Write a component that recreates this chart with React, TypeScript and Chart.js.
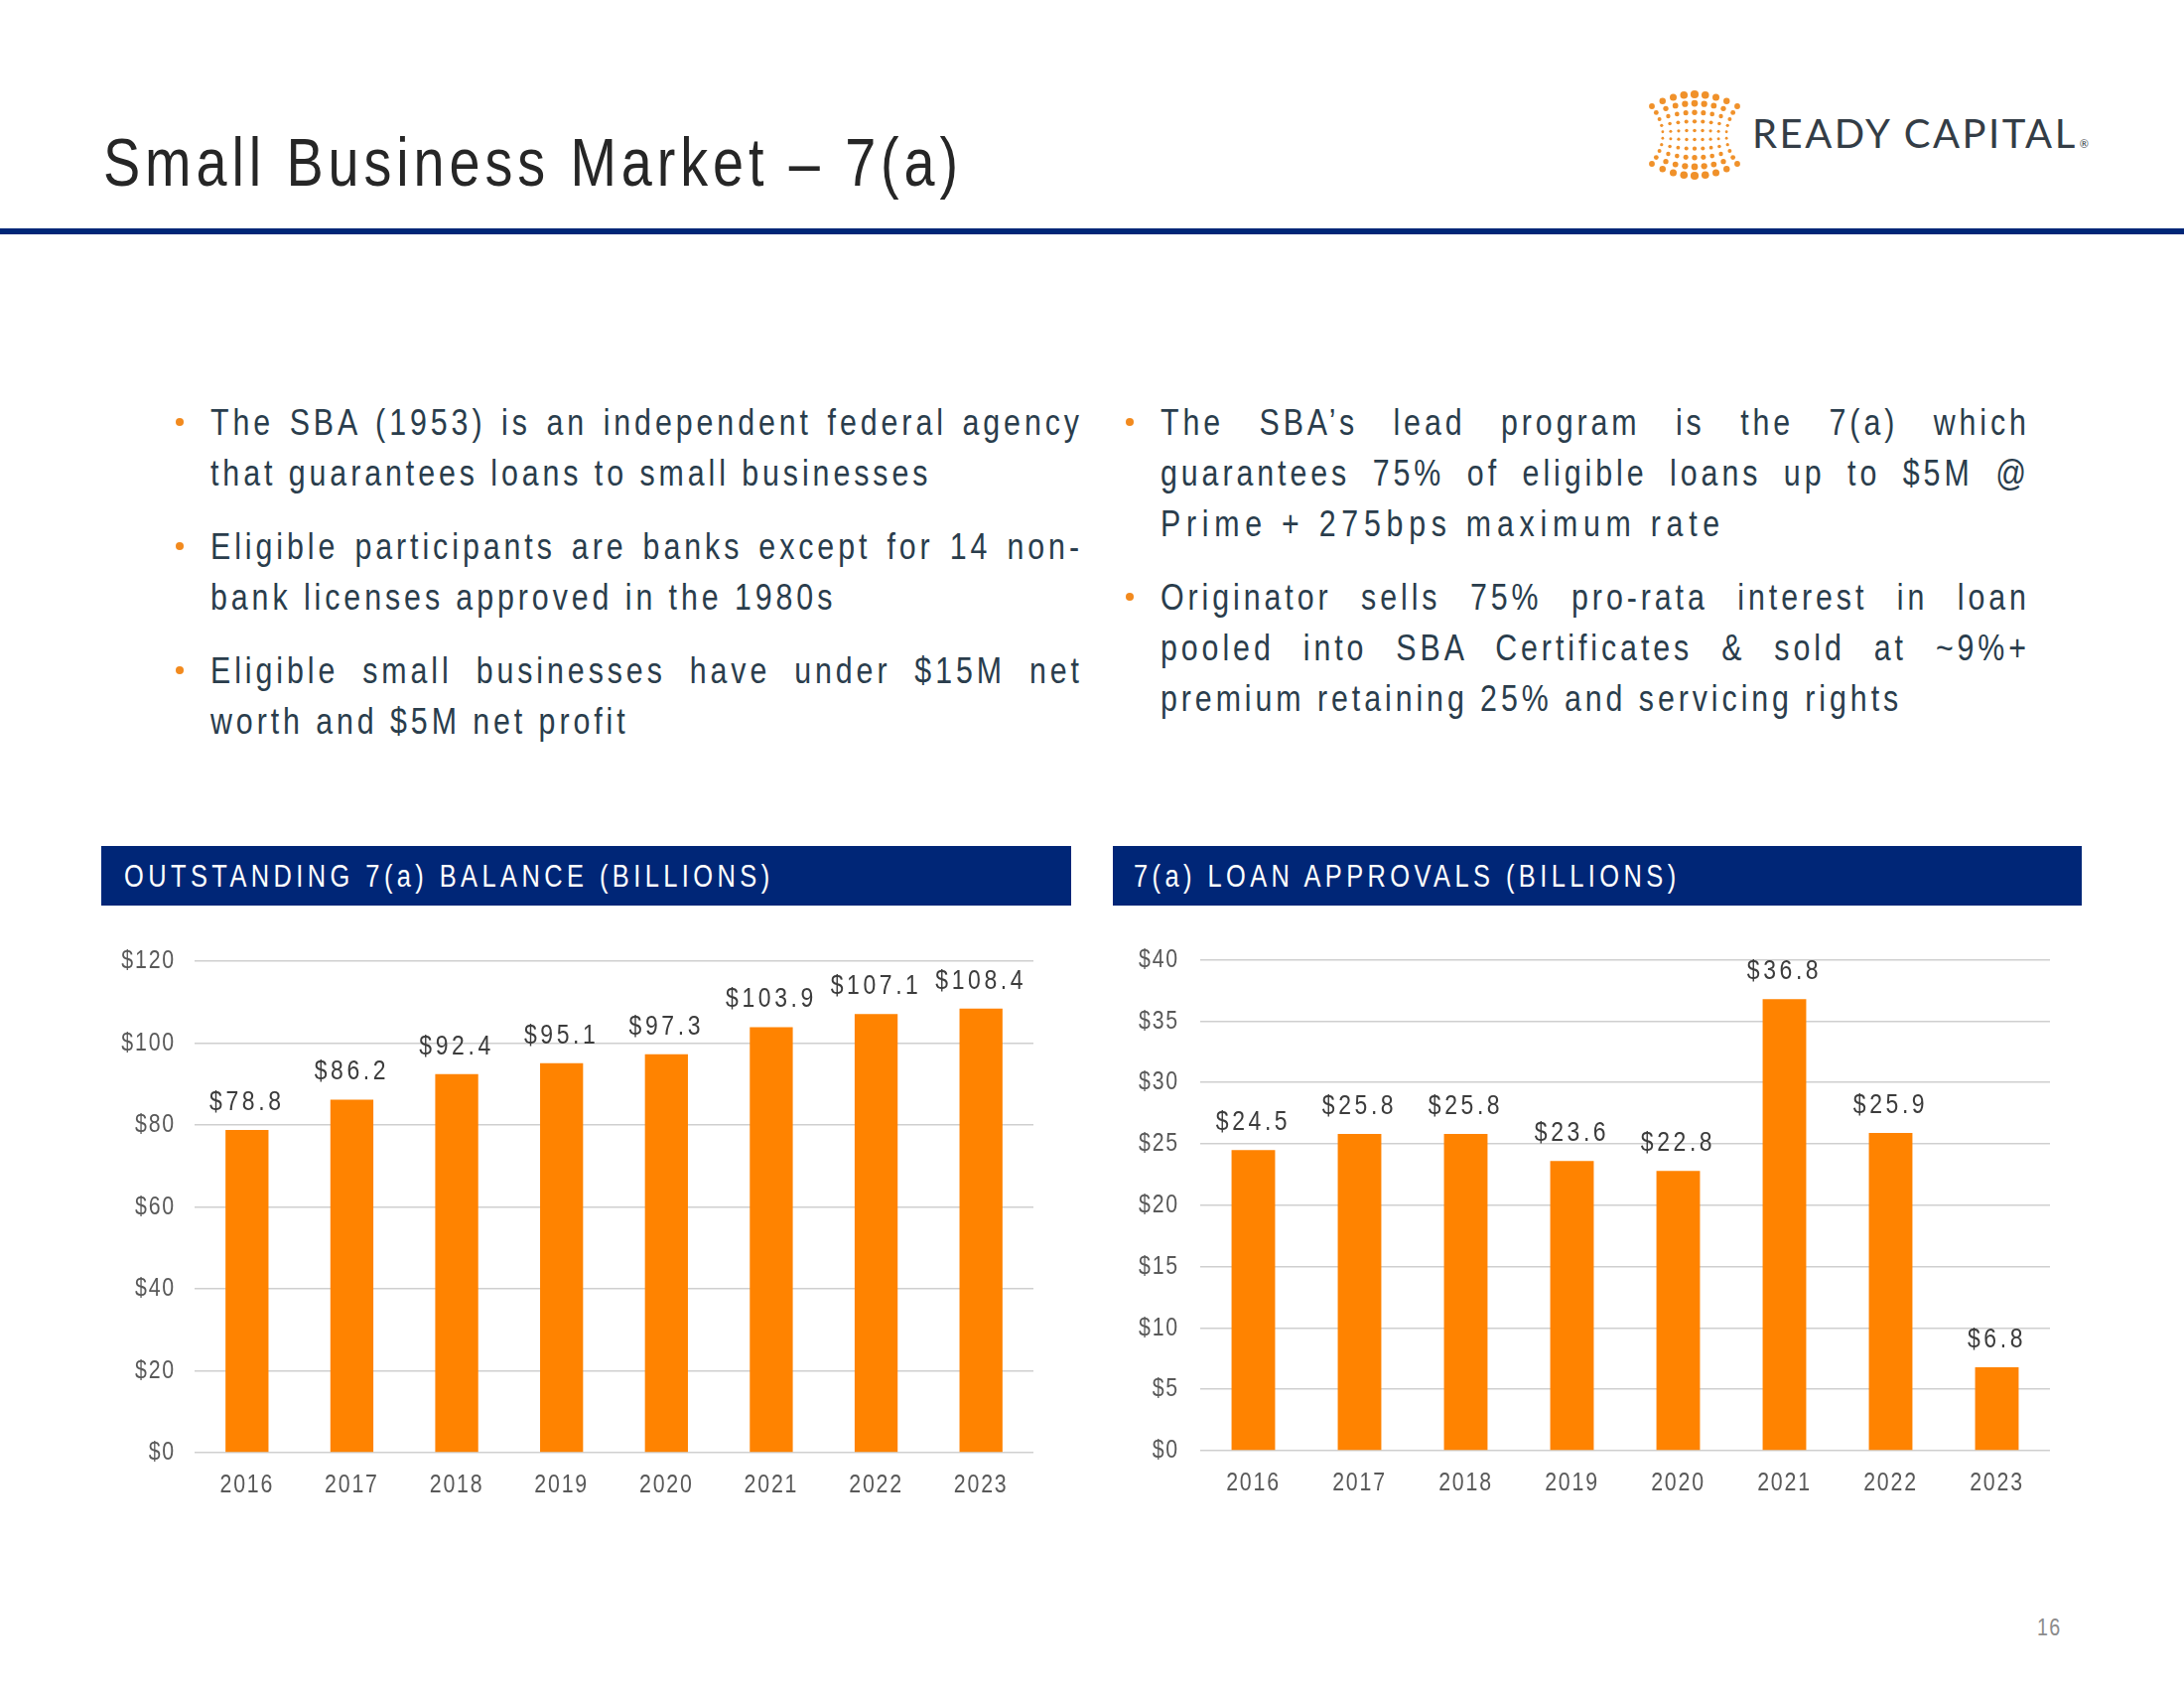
import React, { useEffect, useRef } from "react";
import { Chart, registerables } from "chart.js";

Chart.register(...registerables);

// ---------- data ----------
const years = ["2016", "2017", "2018", "2019", "2020", "2021", "2022", "2023"];
const balanceValues = [78.8, 86.2, 92.4, 95.1, 97.3, 103.9, 107.1, 108.4];
const approvalValues = [24.5, 25.8, 25.8, 23.6, 22.8, 36.8, 25.9, 6.8];
const balanceAxis = { max: 120, step: 20 };
const approvalAxis = { max: 40, step: 5 };

const leftBullets = [
  ["The SBA (1953) is an independent federal agency", "that guarantees loans to small businesses"],
  ["Eligible participants are banks except for 14 non-", "bank licenses approved in the 1980s"],
  ["Eligible small businesses have under $15M net", "worth and $5M net profit"],
];
const rightBullets = [
  ["The SBA\u2019s lead program is the 7(a) which", "guarantees 75% of eligible loans up to $5M @", "Prime + 275bps maximum rate"],
  ["Originator sells 75% pro-rata interest in loan", "pooled into SBA Certificates & sold at ~9%+", "premium retaining 25% and servicing rights"],
];

// ---------- style ----------
const FONT = "'Liberation Sans', Arial, sans-serif";
const NARROW = 0.82; // horizontal squeeze to mimic Arial Narrow
const NAVY = "#002677";
const ORANGE = "#FF8300";
const TEXT = "#2a3d4c";
const BFS = 37; // body font size

// squeeze every canvas text horizontally around its anchor point
const narrowTextPlugin = {
  id: "narrowText",
  beforeInit(chart: any) {
    const ctx = chart.ctx;
    if (ctx.__narrowed) return;
    const orig = ctx.fillText.bind(ctx);
    ctx.fillText = (text: string, x: number, y: number, maxW?: number) => {
      ctx.save();
      ctx.translate(x, y);
      ctx.scale(NARROW, 1);
      if (maxW !== undefined) orig(text, 0, 0, maxW / NARROW);
      else orig(text, 0, 0);
      ctx.restore();
    };
    ctx.__narrowed = true;
  },
  beforeDraw(chart: any) {
    (chart.ctx as any).letterSpacing = "2.2px";
  },
};

const valueLabelPlugin = {
  id: "valueLabels",
  afterDatasetsDraw(chart: any) {
    const ctx = chart.ctx;
    const meta = chart.getDatasetMeta(0);
    const data = chart.data.datasets[0].data as number[];
    ctx.save();
    ctx.font = `28px ${FONT}`;
    (ctx as any).letterSpacing = "4.4px";
    ctx.fillStyle = "#3c3c3c";
    ctx.textAlign = "center";
    ctx.textBaseline = "alphabetic";
    meta.data.forEach((bar: any, i: number) => {
      ctx.fillText("$" + data[i].toFixed(1), bar.x, bar.y - 20);
    });
    ctx.restore();
  },
};

type Box = { x: number; y: number; w: number; h: number };

function BarChart(props: {
  values: number[];
  max: number;
  step: number;
  box: Box;
  yWidth: number;
  pad: { top: number; right: number; bottom: number; left: number };
  yPad: number;
}) {
  const ref = useRef<HTMLCanvasElement>(null);
  useEffect(() => {
    const chart = new Chart(ref.current as HTMLCanvasElement, {
      type: "bar",
      data: {
        labels: years,
        datasets: [
          {
            data: props.values,
            backgroundColor: ORANGE,
            barPercentage: 0.41,
            categoryPercentage: 1,
          },
        ],
      },
      options: {
        animation: false,
        responsive: false,
        maintainAspectRatio: false,
        layout: { padding: props.pad },
        plugins: { legend: { display: false }, tooltip: { enabled: false } },
        scales: {
          x: {
            grid: { display: false, drawTicks: false },
            border: { display: false },
            ticks: { color: "#595959", font: { family: FONT, size: 26 }, padding: 17, maxRotation: 0, autoSkip: false },
            afterFit: (s: any) => {
              s.height = 50;
            },
          },
          y: {
            min: 0,
            max: props.max,
            ticks: {
              stepSize: props.step,
              color: "#595959",
              font: { family: FONT, size: 26 },
              padding: props.yPad,
              callback: (v: any) => "$" + v,
            },
            grid: { color: "#cfcfcf", lineWidth: 1.5, drawTicks: false },
            border: { display: false },
            afterFit: (s: any) => {
              s.width = props.yWidth;
            },
          },
        },
      },
      plugins: [narrowTextPlugin, valueLabelPlugin],
    });
    return () => chart.destroy();
  }, []);
  const b = props.box;
  return (
    <canvas
      ref={ref}
      width={b.w}
      height={b.h}
      style={{ position: "absolute", left: b.x, top: b.y, width: b.w, height: b.h }}
    />
  );
}

// condensed text block: positioned by baseline, squeezed horizontally
function NarrowText(props: {
  x: number;
  baseline: number;
  size: number;
  ls: number;
  color: string;
  text: string;
  width?: number;
  justify?: boolean;
}) {
  const fs = props.size;
  const style: any = {
    position: "absolute",
    left: props.x,
    top: props.baseline - 0.8465 * fs,
    fontFamily: FONT,
    fontSize: fs,
    lineHeight: `${fs}px`,
    letterSpacing: `${props.ls}px`,
    color: props.color,
    whiteSpace: "nowrap",
    transform: `scaleX(${NARROW})`,
    transformOrigin: "0 0",
  };
  if (props.width !== undefined) {
    style.width = (props.width + props.ls * NARROW) / NARROW;
    style.textAlign = props.justify ? "justify" : "left";
    style.textAlignLast = props.justify ? "justify" : "left";
  }
  return <div style={style}>{props.text}</div>;
}

function Dot(props: { x: number; y: number }) {
  return (
    <div
      style={{
        position: "absolute",
        left: props.x - 4,
        top: props.y - 4,
        width: 8,
        height: 8,
        borderRadius: "50%",
        background: "#F28A1E",
      }}
    />
  );
}

const SPECIAL_LS: Record<string, number> = { "Prime + 275bps maximum rate": 7 };

function Bullets(props: { groups: string[][]; x: number; width: number; baselines: number[][] }) {
  const out: any[] = [];
  props.groups.forEach((g, gi) => {
    out.push(<Dot key={"d" + gi} x={props.x - 31} y={props.baselines[gi][0] - 13} />);
    g.forEach((t, li) => {
      out.push(
        <NarrowText
          key={gi + "-" + li}
          x={props.x}
          baseline={props.baselines[gi][li]}
          size={BFS}
          ls={SPECIAL_LS[t] ?? 4.8}
          color={TEXT}
          width={props.width}
          text={t}
          justify={li < g.length - 1}
        />
      );
    });
  });
  return <>{out}</>;
}

function LogoMark() {
  const circles: any[] = [];
  const cols = 9;
  const rows = 10;
  const cx = 47;
  const cy = 46;
  for (let c = 0; c < cols; c++) {
    const u = (c - 4) / 4;
    for (let r = 0; r < rows; r++) {
      const v = (r - 4.5) / 4.5;
      const halfW = 32 + 11 * v * v;
      const halfH = 41 - 12 * u * u;
      const x = cx + u * halfW;
      const y = cy + v * halfH;
      const rad = 0.7 + (1 + 2.4 * Math.pow(Math.abs(v), 1.5)) * (1 - 0.35 * Math.abs(u));
      circles.push(<circle key={c + "-" + r} cx={x} cy={y} r={rad} fill="#F0912A" />);
    }
  }
  return (
    <svg width={96} height={94} style={{ position: "absolute", left: 1660, top: 90 }}>
      {circles}
    </svg>
  );
}

export default function App() {
  useEffect(() => {
    document.body.style.margin = "0";
  }, []);
  return (
    <div style={{ position: "relative", width: 2200, height: 1700, background: "#ffffff", overflow: "hidden" }}>
      {/* title */}
      <NarrowText x={104} baseline={187} size={68} ls={6} color="#262626" text="Small Business Market – 7(a)" />
      <div style={{ position: "absolute", left: 0, top: 230, width: 2200, height: 6, background: NAVY }} />

      {/* logo */}
      <LogoMark />
      <div
        style={{
          position: "absolute",
          left: 1765,
          top: 153 - 0.987 * 40,
          fontFamily: "Lato, 'Open Sans', sans-serif",
          fontSize: 40,
          lineHeight: "40px",
          letterSpacing: "2.5px",
          color: "#343d46",
          whiteSpace: "nowrap",
        }}
      >
        READY CAPITAL<span style={{ fontSize: 11, letterSpacing: 0, marginLeft: 2 }}>®</span>
      </div>

      {/* bullets */}
      <Bullets
        groups={leftBullets}
        x={212}
        width={875}
        baselines={[
          [438, 489],
          [563, 614],
          [688, 739],
        ]}
      />
      <Bullets
        groups={rightBullets}
        x={1169}
        width={872}
        baselines={[
          [438, 489, 540],
          [614, 665, 716],
        ]}
      />

      {/* chart headers */}
      <div style={{ position: "absolute", left: 102, top: 852, width: 977, height: 60, background: NAVY }} />
      <NarrowText x={125} baseline={893} size={31} ls={5.4} color="#ffffff" text="OUTSTANDING 7(a) BALANCE (BILLIONS)" />
      <div style={{ position: "absolute", left: 1121, top: 852, width: 976, height: 60, background: NAVY }} />
      <NarrowText x={1142} baseline={893} size={31} ls={5.4} color="#ffffff" text="7(a) LOAN APPROVALS (BILLIONS)" />

      {/* charts */}
      <BarChart
        values={balanceValues}
        max={balanceAxis.max}
        step={balanceAxis.step}
        box={{ x: 102, y: 930, w: 977, h: 600 }}
        yWidth={94}
        yPad={19}
        pad={{ top: 38, right: 38, bottom: 17, left: 0 }}
      />
      <BarChart
        values={approvalValues}
        max={approvalAxis.max}
        step={approvalAxis.step}
        box={{ x: 1121, y: 930, w: 976, h: 600 }}
        yWidth={88}
        yPad={21}
        pad={{ top: 35, right: 32, bottom: 19, left: 0 }}
      />

      {/* page number */}
      <NarrowText x={2052} baseline={1647} size={24} ls={1.5} color="#8c8c8c" text="16" />
    </div>
  );
}
